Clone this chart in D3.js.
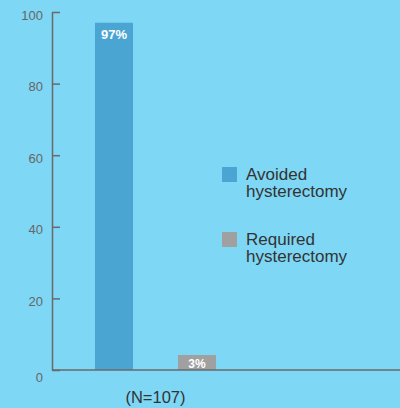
<!DOCTYPE html>
<html>
<head>
<meta charset="utf-8">
<script src="https://cdn.jsdelivr.net/npm/d3@7"></script>
<style>
  html, body { margin: 0; padding: 0; background: #7ed7f5; }
  svg { display: block; font-family: "Liberation Sans", Arial, Helvetica, sans-serif; }
</style>
</head>
<body>
<svg id="chart" width="400" height="408"></svg>
<script>
const categories = ["Avoided hysterectomy", "Required hysterectomy"];
const legendLines = [["Avoided", "hysterectomy"], ["Required", "hysterectomy"]];
const values = [97, 3];
const valueLabels = ["97%", "3%"];
const colors = ["#4ba5d3", "#a0a0a0"];
const yTicks = [0, 20, 40, 60, 80, 100];
const xLabel = "(N=107)";

const W = 400, H = 408;
const svg = d3.select("#chart");
svg.append("rect").attr("width", W).attr("height", H).attr("fill", "#7ed7f5");

const x0 = 52, yBase = 370, yTop = 12;
const y = d3.scaleLinear().domain([0, 100]).range([yBase, yTop]);
const x = d3.scaleBand().domain(categories).range([x0, 259])
  .paddingInner(0.542).paddingOuter(0.518);

// Y axis
const yAxis = svg.append("g").attr("transform", `translate(${x0},0)`)
  .call(d3.axisLeft(y).tickValues(yTicks).tickSizeInner(-8).tickSizeOuter(0).tickPadding(9));
yAxis.select(".domain").attr("stroke", "#6a6a6a").attr("stroke-width", 1.5);
yAxis.selectAll(".tick line").attr("stroke", "#6a6a6a").attr("stroke-width", 1.5);
yAxis.selectAll(".tick text")
  .attr("fill", "#666").attr("font-size", 13)
  .attr("font-family", "Liberation Sans, Arial, sans-serif")
  .attr("dy", d => d === 0 ? "0.85em" : "0.55em");

// Bars
const minH = 15;
const bars = svg.append("g");
categories.forEach((c, i) => {
  const h = Math.max(yBase - y(values[i]), minH);
  bars.append("rect")
    .attr("x", x(c)).attr("width", x.bandwidth())
    .attr("y", yBase - h).attr("height", h)
    .attr("fill", colors[i]);
  bars.append("text")
    .attr("x", x(c) + x.bandwidth() / 2)
    .attr("y", i === 0 ? yBase - h + 16 : yBase - 2.5)
    .attr("text-anchor", "middle")
    .attr("fill", "#fff").attr("font-weight", "bold")
    .attr("font-size", i === 0 ? 13 : 12)
    .text(valueLabels[i]);
});

// X axis line
svg.append("line").attr("x1", x0).attr("x2", W).attr("y1", yBase).attr("y2", yBase)
  .attr("stroke", "#6a6a6a").attr("stroke-width", 1.5);

// X label
const xr = x.range();
svg.append("text").attr("x", (xr[0] + xr[1]) / 2).attr("y", 403)
  .attr("text-anchor", "middle").attr("font-size", 16.5).attr("fill", "#333")
  .text(xLabel);

// Legend
const legY = [167, 232];
categories.forEach((c, i) => {
  const g = svg.append("g").attr("transform", `translate(222,${legY[i]})`);
  g.append("rect").attr("width", 15).attr("height", 15).attr("fill", colors[i]);
  const t = g.append("text").attr("x", 24).attr("y", 12.5)
    .attr("font-size", 17).attr("fill", "#333");
  legendLines[i].forEach((ln, j) => {
    t.append("tspan").attr("x", 24).attr("dy", j === 0 ? 0 : 17).text(ln);
  });
});
</script>
</body>
</html>
